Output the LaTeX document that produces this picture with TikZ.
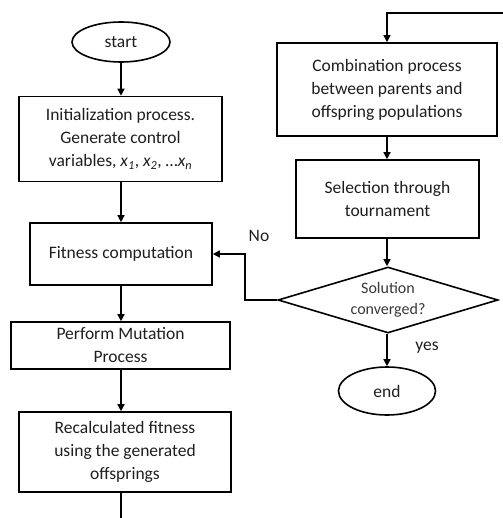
\documentclass[tikz,border=0pt]{standalone}
\usepackage{fontspec}
\setmainfont{Carlito}
\usetikzlibrary{shapes.geometric,arrows.meta}
\definecolor{txt}{HTML}{1E1E1E}
\definecolor{dtxt}{HTML}{383838}
\begin{document}
\begin{tikzpicture}[x=1pt,y=-1pt,
  box/.style={draw,line width=1.6pt,rectangle,align=center,inner sep=0pt,
    font=\fontsize{17.5}{23}\selectfont,text=txt},
  term/.style={draw,line width=1.6pt,ellipse,inner sep=0pt,
    font=\fontsize{17.5}{23}\selectfont,text=txt},
  dec/.style={draw,line width=1.6pt,diamond,aspect=3.33,inner sep=0pt,align=center,
    font=\fontsize{16}{21}\selectfont,text=dtxt},
  arr/.style={line width=1.4pt,-{Triangle[length=7pt,width=7pt]}},
  ln/.style={line width=1.4pt},
  lab/.style={font=\fontsize{17.5}{20}\selectfont,text=txt,inner sep=0pt}]
\useasboundingbox (0,0) rectangle (502,518);

\node[term,minimum width=98pt,minimum height=40pt] (start) at (121,42) {start};
\node[box,minimum width=203pt,minimum height=85pt] (init) at (120.5,139)
  {Initialization process.\\Generate control\\variables, \textit{x\textsubscript{1}}, \textit{x\textsubscript{2}}, …\textit{x\textsubscript{n}}};
\node[box,minimum width=182pt,minimum height=62pt] (fit) at (121,254) {Fitness computation};
\node[box,minimum width=219pt,minimum height=47pt] (mut) at (120.5,345.5) {Perform Mutation\\Process};
\node[box,minimum width=212pt,minimum height=80pt] (rec) at (125,452) {Recalculated fitness\\using the generated\\offsprings};

\node[box,minimum width=220pt,minimum height=93pt] (comb) at (387,89.5)
  {Combination process\\between parents and\\offspring populations};
\node[box,minimum width=183pt,minimum height=78pt] (sel) at (387.5,199) {Selection through\\tournament};
\node[dec,minimum width=220pt,minimum height=66pt] (dia) at (388,300) {Solution\\converged?};
\node[term,minimum width=97pt,minimum height=48pt] (end) at (387,391) {end};

\node[lab] (no) at (259,236) {No};
\node[lab] (yes) at (427,348) {yes};

\coordinate (tr) at (503,13);
\coordinate (bot) at (121,519);
\coordinate (k) at (245,300);

\draw[arr] (start) -- (start.south |- init.north);
\draw[arr] (init.south -| start) -- (fit.north -| start);
\draw[arr] (fit.south -| start) -- (mut.north -| start);
\draw[arr] (mut.south -| start) -- (rec.north -| start);
\draw[ln] (rec.south -| bot) -- (bot);

\draw[arr] (tr) -| (comb.north);
\draw[arr] (comb.south) -- (comb.south |- sel.north);
\draw[arr] (sel.south -| comb) -- (dia.north -| comb);
\draw[arr] (dia.south -| comb) -- (end.north);
\draw[arr] (dia.west) -- (k) |- (fit.east);
\end{tikzpicture}
\end{document}
